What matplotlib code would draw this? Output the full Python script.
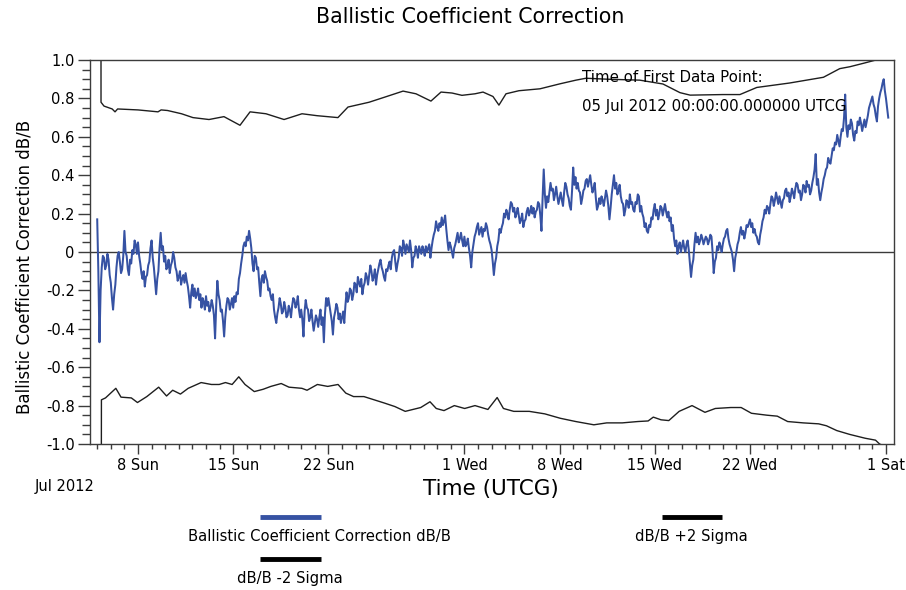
import pandas as pd
import matplotlib
matplotlib.use("Agg")
import matplotlib.pyplot as plt
import matplotlib.dates as mdates
from matplotlib.ticker import MultipleLocator, FuncFormatter
from matplotlib.lines import Line2D

plt.rcParams['font.family'] = ['DejaVu Sans']
plt.rcParams['axes.unicode_minus'] = False

START = pd.Timestamp('2012-07-05 00:00:00')

# Ballistic coefficient correction dB/B, sampled every 2 hours from START (rows = days)
bc_values = [
    0.17, -0.10, -0.47, -0.20, -0.08, -0.02, -0.03, -0.09, -0.07, -0.01, -0.04, -0.12,
    -0.16, -0.24, -0.30, -0.22, -0.17, -0.08, -0.02, 0.00, -0.05, -0.11, -0.09, -0.02,
    0.11, 0.00, -0.02, -0.09, -0.12, -0.04, -0.06, 0.01, -0.01, 0.06, 0.04, -0.01,
    0.05, -0.02, -0.06, -0.11, -0.14, -0.10, -0.18, -0.13, -0.12, -0.07, -0.05, 0.02,
    0.06, -0.03, -0.08, -0.15, -0.22, -0.14, -0.10, 0.02, 0.10, 0.01, 0.03, -0.05,
    -0.02, -0.09, -0.08, -0.04, -0.11, -0.07, -0.05, 0.00, -0.03, -0.08, -0.10, -0.15,
    -0.13, -0.10, -0.17, -0.14, -0.12, -0.16, -0.11, -0.15, -0.18, -0.23, -0.29, -0.21,
    -0.17, -0.23, -0.19, -0.24, -0.22, -0.19, -0.25, -0.22, -0.29, -0.24, -0.26, -0.30,
    -0.23, -0.28, -0.26, -0.31, -0.29, -0.25, -0.28, -0.33, -0.45, -0.28, -0.15, -0.22,
    -0.25, -0.31, -0.30, -0.36, -0.44, -0.34, -0.28, -0.24, -0.25, -0.30, -0.27, -0.24,
    -0.29, -0.23, -0.26, -0.21, -0.22, -0.14, -0.11, -0.06, -0.02, 0.03, 0.05, 0.03,
    0.08, 0.06, 0.11, 0.07, 0.02, -0.06, -0.10, -0.02, -0.03, -0.09, -0.08, -0.16,
    -0.23, -0.14, -0.12, -0.16, -0.10, -0.13, -0.15, -0.20, -0.19, -0.23, -0.25, -0.22,
    -0.30, -0.34, -0.37, -0.32, -0.29, -0.24, -0.27, -0.32, -0.31, -0.26, -0.29, -0.34,
    -0.33, -0.28, -0.30, -0.34, -0.28, -0.24, -0.25, -0.29, -0.27, -0.23, -0.30, -0.34,
    -0.30, -0.35, -0.44, -0.31, -0.25, -0.29, -0.30, -0.36, -0.34, -0.30, -0.36, -0.41,
    -0.37, -0.33, -0.35, -0.39, -0.34, -0.30, -0.38, -0.34, -0.47, -0.32, -0.24, -0.28,
    -0.24, -0.28, -0.32, -0.36, -0.43, -0.34, -0.31, -0.27, -0.29, -0.35, -0.32, -0.37,
    -0.34, -0.31, -0.37, -0.28, -0.21, -0.26, -0.24, -0.19, -0.20, -0.25, -0.22, -0.16,
    -0.17, -0.21, -0.13, -0.16, -0.18, -0.14, -0.22, -0.18, -0.16, -0.11, -0.13, -0.17,
    -0.12, -0.07, -0.10, -0.15, -0.13, -0.09, -0.17, -0.12, -0.09, -0.06, -0.04, -0.08,
    -0.10, -0.13, -0.15, -0.09, -0.10, -0.07, -0.05, -0.09, -0.03, 0.00, 0.01, -0.05,
    -0.10, -0.06, -0.03, 0.03, 0.02, -0.02, 0.06, 0.03, -0.01, 0.04, 0.02, 0.00,
    0.06, 0.01, -0.08, -0.03, -0.02, 0.03, 0.01, -0.03, 0.03, 0.01, -0.01, 0.03,
    0.01, -0.02, 0.03, 0.00, 0.02, 0.04, -0.03, 0.02, 0.06, 0.09, 0.11, 0.16,
    0.13, 0.11, 0.15, 0.13, 0.18, 0.14, 0.16, 0.19, 0.12, 0.06, 0.01, 0.05,
    0.03, 0.00, -0.03, 0.02, 0.04, 0.07, 0.10, 0.05, 0.07, 0.10, 0.06, 0.03,
    0.08, 0.03, 0.04, 0.07, 0.02, -0.02, -0.08, 0.00, 0.04, 0.08, 0.10, 0.13,
    0.15, 0.09, 0.11, 0.13, 0.08, 0.12, 0.11, 0.15, 0.13, 0.09, 0.06, 0.04,
    0.01, -0.05, -0.12, -0.06, -0.03, 0.03, 0.06, 0.12, 0.10, 0.13, 0.15, 0.20,
    0.18, 0.22, 0.20, 0.17, 0.22, 0.26, 0.25, 0.21, 0.23, 0.18, 0.20, 0.23,
    0.19, 0.15, 0.17, 0.20, 0.13, 0.16, 0.17, 0.21, 0.23, 0.19, 0.21, 0.24,
    0.20, 0.23, 0.18, 0.21, 0.22, 0.26, 0.25, 0.19, 0.11, 0.28, 0.43, 0.30,
    0.23, 0.29, 0.26, 0.31, 0.36, 0.32, 0.33, 0.27, 0.30, 0.34, 0.29, 0.25,
    0.28, 0.31, 0.27, 0.24, 0.31, 0.36, 0.34, 0.30, 0.28, 0.24, 0.22, 0.32,
    0.44, 0.35, 0.39, 0.33, 0.36, 0.32, 0.31, 0.25, 0.28, 0.32, 0.33, 0.37,
    0.38, 0.34, 0.37, 0.40, 0.35, 0.31, 0.33, 0.36, 0.28, 0.22, 0.24, 0.28,
    0.25, 0.29, 0.27, 0.24, 0.28, 0.32, 0.29, 0.24, 0.17, 0.23, 0.30, 0.35,
    0.40, 0.33, 0.36, 0.30, 0.32, 0.35, 0.29, 0.26, 0.25, 0.19, 0.22, 0.27,
    0.26, 0.23, 0.30, 0.25, 0.26, 0.22, 0.21, 0.26, 0.25, 0.30, 0.29, 0.21,
    0.24, 0.20, 0.18, 0.13, 0.15, 0.11, 0.10, 0.14, 0.13, 0.18, 0.17, 0.22,
    0.25, 0.19, 0.22, 0.17, 0.20, 0.24, 0.23, 0.19, 0.22, 0.25, 0.21, 0.18,
    0.21, 0.16, 0.18, 0.11, 0.14, 0.07, 0.03, 0.06, -0.01, 0.03, 0.05, 0.00,
    0.03, 0.06, 0.02, 0.00, 0.04, 0.06, 0.01, -0.06, -0.13, -0.07, -0.04, 0.04,
    0.10, 0.05, 0.08, 0.04, 0.06, 0.09, 0.07, 0.04, 0.06, 0.08, 0.07, 0.04,
    0.06, 0.09, 0.08, 0.00, -0.11, -0.05, -0.03, 0.03, 0.01, 0.05, 0.03, 0.00,
    0.04, 0.07, 0.08, 0.11, 0.12, 0.07, 0.04, 0.02, 0.00, -0.04, -0.10, -0.03,
    0.00, 0.04, 0.06, 0.10, 0.13, 0.09, 0.11, 0.07, 0.10, 0.14, 0.13, 0.15,
    0.17, 0.13, 0.15, 0.10, 0.12, 0.09, 0.08, 0.05, 0.04, 0.09, 0.12, 0.16,
    0.18, 0.22, 0.20, 0.24, 0.23, 0.20, 0.25, 0.29, 0.28, 0.24, 0.27, 0.31,
    0.28, 0.25, 0.29, 0.26, 0.23, 0.27, 0.28, 0.32, 0.33, 0.29, 0.31, 0.26,
    0.29, 0.33, 0.31, 0.28, 0.33, 0.36, 0.35, 0.31, 0.32, 0.27, 0.30, 0.35,
    0.34, 0.31, 0.37, 0.34, 0.35, 0.30, 0.32, 0.36, 0.39, 0.43, 0.51, 0.35,
    0.38, 0.31, 0.27, 0.31, 0.34, 0.38, 0.40, 0.43, 0.44, 0.49, 0.47, 0.46,
    0.50, 0.54, 0.53, 0.57, 0.56, 0.61, 0.58, 0.55, 0.60, 0.64, 0.63, 0.70,
    0.82, 0.65, 0.60, 0.66, 0.64, 0.69, 0.67, 0.61, 0.58, 0.63, 0.62, 0.68,
    0.66, 0.70, 0.67, 0.63, 0.66, 0.69, 0.65, 0.68, 0.71, 0.75, 0.77, 0.79,
    0.81, 0.77, 0.75, 0.71, 0.68, 0.76, 0.80, 0.83, 0.85, 0.88, 0.90, 0.84,
    0.80, 0.75, 0.70,
]

# +2 sigma curve: (days since START, value)
plus_days = [0.27, 0.28, 0.5, 1.1, 1.31, 1.5, 3.0, 4.47, 4.7, 5.17, 6.2, 7.04, 8.22,
             9.32, 10.5, 11.24, 12.41, 13.74, 15.06, 16.16, 17.7, 18.44, 19.99,
             21.16, 22.49, 23.44, 24.54, 25.28, 26.09, 26.82, 27.78, 28.37, 29.1,
             29.54, 30.06, 31.01, 32.56, 34.03, 35.2, 35.94, 37.5, 39.9, 41.6,
             42.85, 43.6, 46.0, 47.26, 48.5, 50.9, 53.4, 54.6, 55.35, 56.46,
             57.26, 58.2]
plus_vals = [3.0, 0.78, 0.76, 0.745, 0.73, 0.745, 0.74, 0.73, 0.74, 0.737, 0.72,
             0.70, 0.69, 0.705, 0.66, 0.73, 0.72, 0.69, 0.72, 0.71, 0.70, 0.755,
             0.78, 0.807, 0.838, 0.824, 0.786, 0.833, 0.828, 0.816, 0.824, 0.833,
             0.81, 0.765, 0.824, 0.84, 0.85, 0.876, 0.895, 0.905, 0.90, 0.895,
             0.875, 0.83, 0.817, 0.82, 0.82, 0.857, 0.88, 0.91, 0.955, 0.965,
             0.985, 1.0, 1.02]

# -2 sigma curve: (days since START, value)
minus_days = [0.27, 0.31, 0.61, 1.37, 1.75, 2.51, 2.96, 3.65, 4.52, 5.1, 5.55, 6.12,
              6.69, 7.64, 8.4, 8.97, 9.43, 9.92, 10.41, 10.87, 11.55, 12.2, 12.77,
              13.53, 14.1, 15.05, 15.43, 16.19, 16.95, 17.71, 18.28, 18.85, 19.61,
              20.37, 21.13, 21.89, 22.65, 23.22, 23.79, 24.47, 24.93, 25.5, 26.26,
              27.02, 27.78, 28.73, 29.41, 29.87, 30.63, 31.77, 32.91, 34.05, 35.19,
              36.52, 37.47, 38.61, 39.75, 40.51, 40.89, 41.46, 42.03, 42.79, 43.74,
              44.69, 45.45, 46.59, 47.35, 48.11, 49.25, 50.01, 50.77, 51.91, 53.05,
              53.62, 54.38, 55.33, 56.47, 57.23, 57.53, 58.2]
minus_vals = [-3.0, -0.77, -0.76, -0.71, -0.756, -0.76, -0.784, -0.753, -0.704, -0.75,
              -0.72, -0.74, -0.71, -0.68, -0.69, -0.69, -0.68, -0.69, -0.65, -0.69,
              -0.727, -0.715, -0.70, -0.685, -0.704, -0.71, -0.72, -0.69, -0.70,
              -0.69, -0.735, -0.753, -0.753, -0.77, -0.787, -0.805, -0.83, -0.82,
              -0.81, -0.78, -0.815, -0.826, -0.80, -0.815, -0.80, -0.82, -0.758,
              -0.815, -0.83, -0.83, -0.843, -0.866, -0.883, -0.90, -0.89, -0.89,
              -0.883, -0.88, -0.86, -0.874, -0.878, -0.83, -0.80, -0.835, -0.815,
              -0.81, -0.81, -0.84, -0.85, -0.855, -0.883, -0.89, -0.895, -0.905,
              -0.93, -0.95, -0.97, -0.98, -1.0, -1.02]

TITLE = 'Ballistic Coefficient Correction'
YLABEL = 'Ballistic Coefficient Correction dB/B'
XLABEL = 'Time (UTCG)'
LEG_LABELS = ['Ballistic Coefficient Correction dB/B', 'dB/B -2 Sigma', 'dB/B +2 Sigma']

bc_times = pd.date_range(START, periods=len(bc_values), freq='2h')
plus_times = START + pd.to_timedelta(plus_days, unit='D')
minus_times = START + pd.to_timedelta(minus_days, unit='D')

W, H = 906, 590
def fx(x):
    return x / W
def fy(y):
    return 1 - y / H

BLUE = '#3652a3'
DARK = '#1e1e1e'
FRAME = '#3c3c3c'

fig = plt.figure(figsize=(W / 100, H / 100), dpi=100)
ax = fig.add_axes([fx(90), fy(444), (894 - 90) / W, (444 - 60) / H])

ax.axhline(0, color='#3a3a3a', lw=1.0, zorder=1)
ax.plot(plus_times, plus_vals, color=DARK, lw=1.0, zorder=2)
ax.plot(minus_times, minus_vals, color=DARK, lw=1.0, zorder=2)
ax.plot(bc_times, bc_values, color=BLUE, lw=1.45, zorder=3)

ax.set_xlim(START + pd.Timedelta(days=-0.53), START + pd.Timedelta(days=58.59))
ax.set_ylim(-1.0, 1.0)

ax.xaxis.set_major_locator(mdates.DayLocator(bymonthday=[1, 8, 15, 22]))
ax.xaxis.set_minor_locator(mdates.DayLocator())
ax.xaxis.set_major_formatter(FuncFormatter(
    lambda v, pos: '{} {}'.format(mdates.num2date(v).day, mdates.num2date(v).strftime('%a'))))

ax.yaxis.set_major_locator(MultipleLocator(0.2))
ax.yaxis.set_minor_locator(MultipleLocator(0.05))
ax.yaxis.set_major_formatter(FuncFormatter(
    lambda v, pos: '0' if abs(v) < 1e-9 else '{:.1f}'.format(v)))

for s in ax.spines.values():
    s.set_color(FRAME)
    s.set_linewidth(1.0)

ax.tick_params(axis='x', which='major', direction='out', length=7, width=1,
               color=FRAME, labelsize=10.5, pad=3)
ax.tick_params(axis='x', which='minor', direction='out', length=3.6, width=1, color=FRAME)
ax.tick_params(axis='y', which='major', direction='out', length=9, width=1,
               color=FRAME, labelsize=10.5, pad=2)
ax.tick_params(axis='y', which='minor', direction='out', length=5.5, width=1, color=FRAME)

fig.text(fx(470), fy(17), TITLE, ha='center', va='center', fontsize=14.8)
fig.text(fx(491), fy(489), XLABEL, ha='center', va='center', fontsize=15.5)
fig.text(fx(25), fy(267), YLABEL, ha='center', va='center', rotation=90, fontsize=12)
fig.text(fx(65), fy(486), 'Jul 2012', ha='center', va='center', fontsize=10.5)

fig.text(fx(582), fy(82), 'Time of First Data Point:', ha='left', va='baseline', fontsize=10.8)
fig.text(fx(582), fy(111), '05 Jul 2012 00:00:00.000000 UTCG', ha='left', va='baseline',
         fontsize=10.8)

# legend block below the axes
fig.add_artist(Line2D([fx(260), fx(321)], [fy(517), fy(517)], color=BLUE, lw=3.5,
                      solid_capstyle='butt', transform=fig.transFigure))
fig.add_artist(Line2D([fx(260), fx(321)], [fy(559), fy(559)], color='black', lw=3.5,
                      solid_capstyle='butt', transform=fig.transFigure))
fig.add_artist(Line2D([fx(662), fx(722)], [fy(517), fy(517)], color='black', lw=3.5,
                      solid_capstyle='butt', transform=fig.transFigure))
fig.text(fx(319), fy(537), LEG_LABELS[0], ha='center', va='center', fontsize=10.6)
fig.text(fx(290), fy(579), LEG_LABELS[1], ha='center', va='center', fontsize=10.6)
fig.text(fx(691), fy(537), LEG_LABELS[2], ha='center', va='center', fontsize=10.6)

fig.savefig('out.png', dpi=100)
